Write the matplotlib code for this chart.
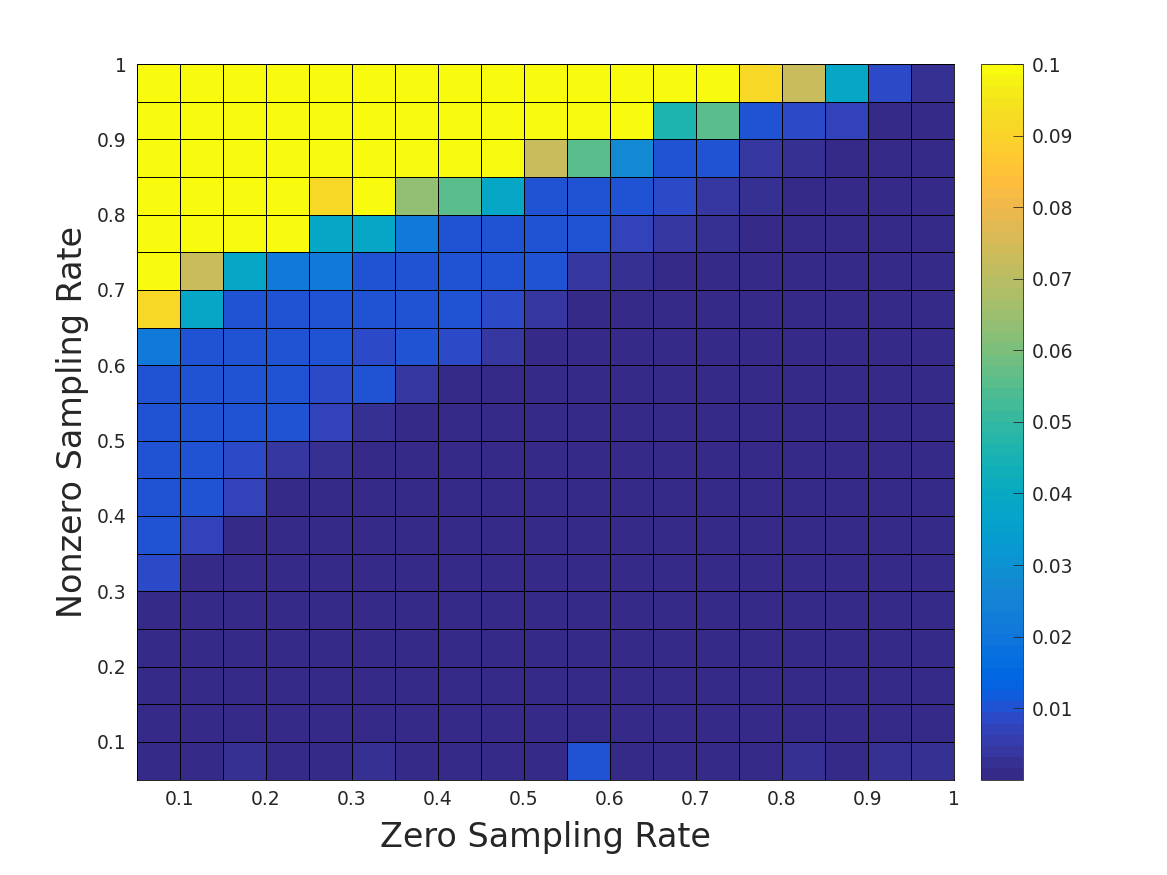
import matplotlib
matplotlib.use("Agg")
import matplotlib.pyplot as plt
from matplotlib.colors import ListedColormap, Normalize
import numpy as np

parula = [
 [0.2081,0.1663,0.5292],[0.2116,0.1898,0.5777],[0.2123,0.2138,0.6270],[0.2081,0.2386,0.6771],
 [0.1959,0.2645,0.7279],[0.1707,0.2919,0.7792],[0.1253,0.3242,0.8303],[0.0591,0.3598,0.8683],
 [0.0117,0.3875,0.8820],[0.0060,0.4086,0.8828],[0.0165,0.4266,0.8786],[0.0329,0.4430,0.8720],
 [0.0498,0.4586,0.8641],[0.0629,0.4737,0.8554],[0.0723,0.4887,0.8467],[0.0779,0.5040,0.8384],
 [0.0793,0.5200,0.8312],[0.0749,0.5375,0.8263],[0.0641,0.5570,0.8240],[0.0488,0.5772,0.8228],
 [0.0343,0.5966,0.8199],[0.0265,0.6137,0.8135],[0.0239,0.6287,0.8038],[0.0231,0.6418,0.7913],
 [0.0228,0.6535,0.7768],[0.0267,0.6642,0.7607],[0.0384,0.6743,0.7436],[0.0590,0.6838,0.7254],
 [0.0843,0.6928,0.7062],[0.1133,0.7015,0.6859],[0.1453,0.7098,0.6646],[0.1801,0.7177,0.6424],
 [0.2178,0.7250,0.6193],[0.2586,0.7317,0.5954],[0.3022,0.7376,0.5712],[0.3482,0.7424,0.5473],
 [0.3953,0.7459,0.5244],[0.4420,0.7481,0.5033],[0.4871,0.7491,0.4840],[0.5300,0.7491,0.4661],
 [0.5709,0.7485,0.4494],[0.6099,0.7473,0.4337],[0.6473,0.7456,0.4188],[0.6834,0.7435,0.4044],
 [0.7184,0.7411,0.3905],[0.7525,0.7384,0.3768],[0.7858,0.7356,0.3633],[0.8185,0.7327,0.3498],
 [0.8507,0.7299,0.3360],[0.8824,0.7274,0.3217],[0.9139,0.7258,0.3063],[0.9450,0.7261,0.2886],
 [0.9739,0.7314,0.2666],[0.9938,0.7455,0.2403],[0.9990,0.7653,0.2164],[0.9955,0.7861,0.1967],
 [0.9880,0.8066,0.1794],[0.9789,0.8271,0.1633],[0.9697,0.8481,0.1475],[0.9626,0.8705,0.1309],
 [0.9589,0.8949,0.1132],[0.9598,0.9218,0.0948],[0.9661,0.9514,0.0755],[0.9763,0.9831,0.0538],
]

zero_rate_edges = [0.05,0.10,0.15,0.20,0.25,0.30,0.35,0.40,0.45,0.50,0.55,0.60,0.65,0.70,0.75,0.80,0.85,0.90,0.95,1.00]
nonzero_rate_edges = [0.05,0.10,0.15,0.20,0.25,0.30,0.35,0.40,0.45,0.50,0.55,0.60,0.65,0.70,0.75,0.80,0.85,0.90,0.95,1.00]
tick_values = [0.1,0.2,0.3,0.4,0.5,0.6,0.7,0.8,0.9,1.0]
tick_labels = ['0.1','0.2','0.3','0.4','0.5','0.6','0.7','0.8','0.9','1']
cbar_ticks = [0.01,0.02,0.03,0.04,0.05,0.06,0.07,0.08,0.09,0.1]
cbar_labels = ['0.01','0.02','0.03','0.04','0.05','0.06','0.07','0.08','0.09','0.1']

# error values, rows listed from nonzero rate 0.05-0.10 (bottom) to 0.95-1.00 (top)
row_010 = [.0012,.0012,.0023,.0012,.0012,.0023,.0012,.0012,.0012,.0012,.0102,.0012,.0012,.0012,.0012,.0023,.0012,.0023,.0023]
row_015 = [.0012,.0012,.0012,.0012,.0012,.0012,.0012,.0012,.0012,.0012,.0012,.0012,.0012,.0012,.0012,.0012,.0012,.0012,.0012]
row_020 = [.0012,.0012,.0012,.0012,.0012,.0012,.0012,.0012,.0012,.0012,.0012,.0012,.0012,.0012,.0012,.0012,.0012,.0012,.0012]
row_025 = [.0012,.0012,.0012,.0012,.0012,.0012,.0012,.0012,.0012,.0012,.0012,.0012,.0012,.0012,.0012,.0012,.0012,.0012,.0012]
row_030 = [.0012,.0012,.0012,.0012,.0012,.0012,.0012,.0012,.0012,.0012,.0012,.0012,.0012,.0012,.0012,.0012,.0012,.0012,.0012]
row_035 = [.0086,.0012,.0012,.0012,.0012,.0012,.0012,.0012,.0012,.0012,.0012,.0012,.0012,.0012,.0012,.0012,.0012,.0012,.0012]
row_040 = [.0102,.0070,.0012,.0012,.0012,.0012,.0012,.0012,.0012,.0012,.0012,.0012,.0012,.0012,.0012,.0012,.0012,.0012,.0012]
row_045 = [.0102,.0102,.0070,.0012,.0012,.0012,.0012,.0012,.0012,.0012,.0012,.0012,.0012,.0012,.0012,.0012,.0012,.0012,.0012]
row_050 = [.0102,.0102,.0086,.0039,.0023,.0012,.0012,.0012,.0012,.0012,.0012,.0012,.0012,.0012,.0012,.0012,.0012,.0012,.0012]
row_055 = [.0102,.0102,.0102,.0102,.0070,.0023,.0012,.0012,.0012,.0012,.0012,.0012,.0012,.0012,.0012,.0012,.0012,.0012,.0012]
row_060 = [.0102,.0102,.0102,.0102,.0086,.0102,.0039,.0012,.0012,.0012,.0012,.0012,.0012,.0012,.0012,.0012,.0012,.0012,.0012]
row_065 = [.0211,.0102,.0102,.0102,.0102,.0086,.0102,.0086,.0039,.0012,.0012,.0012,.0012,.0012,.0012,.0012,.0012,.0012,.0012]
row_070 = [.0914,.0383,.0102,.0102,.0102,.0102,.0102,.0102,.0086,.0039,.0012,.0012,.0012,.0012,.0012,.0012,.0012,.0012,.0012]
row_075 = [.1000,.0727,.0383,.0211,.0211,.0102,.0102,.0102,.0102,.0102,.0039,.0023,.0012,.0012,.0012,.0012,.0012,.0012,.0012]
row_080 = [.1000,.1000,.1000,.1000,.0383,.0383,.0211,.0102,.0102,.0102,.0102,.0070,.0039,.0023,.0012,.0012,.0012,.0012,.0012]
row_085 = [.1000,.1000,.1000,.1000,.0914,.1000,.0633,.0555,.0383,.0102,.0102,.0102,.0086,.0047,.0023,.0012,.0012,.0012,.0012]
row_090 = [.1000,.1000,.1000,.1000,.1000,.1000,.1000,.1000,.1000,.0727,.0555,.0280,.0102,.0102,.0047,.0023,.0012,.0012,.0012]
row_095 = [.1000,.1000,.1000,.1000,.1000,.1000,.1000,.1000,.1000,.1000,.1000,.1000,.0461,.0555,.0102,.0086,.0070,.0012,.0012]
row_100 = [.1000,.1000,.1000,.1000,.1000,.1000,.1000,.1000,.1000,.1000,.1000,.1000,.1000,.1000,.0914,.0727,.0383,.0086,.0023]

grid = np.array([row_010,row_015,row_020,row_025,row_030,row_035,row_040,row_045,row_050,row_055,
                 row_060,row_065,row_070,row_075,row_080,row_085,row_090,row_095,row_100])

W, H = 1167, 875
TEXT = '#262626'
plt.rcParams['font.family'] = 'DejaVu Sans'
fig = plt.figure(figsize=(W/100, H/100), dpi=100)
ax = fig.add_axes([137/W, 1-779.5/H, (954-137)/W, (779.5-64)/H])
cmap = ListedColormap(parula)
norm = Normalize(vmin=0.00003, vmax=0.1)
mesh = ax.pcolormesh(zero_rate_edges, nonzero_rate_edges, grid, cmap=cmap, norm=norm,
                     edgecolors='black', linewidth=0.45)
ax.set_xlim(0.05, 1)
ax.set_ylim(0.05, 1)
ax.set_xticks(tick_values, tick_labels)
ax.set_yticks(tick_values, tick_labels)
ax.tick_params(direction='in', length=0, labelsize=13.5, labelcolor=TEXT, pad=7.5)
ax.set_xlabel('Zero Sampling Rate', fontsize=24, color=TEXT, labelpad=8.5)
ax.set_ylabel('Nonzero Sampling Rate', fontsize=24, color=TEXT, labelpad=5.5)
for s in ax.spines.values():
    s.set_linewidth(0.6)
    s.set_color('black')

cax = fig.add_axes([981/W, 1-779.5/H, 42/W, (779.5-64)/H])
cb = fig.colorbar(mesh, cax=cax)
cb.set_ticks(cbar_ticks, labels=cbar_labels)
cax.tick_params(direction='in', length=7, width=0.6, color=TEXT, labelsize=13.5, labelcolor=TEXT, pad=6)
cb.outline.set_linewidth(0.6)
cb.outline.set_edgecolor(TEXT)

fig.savefig('out.png', dpi=100)
